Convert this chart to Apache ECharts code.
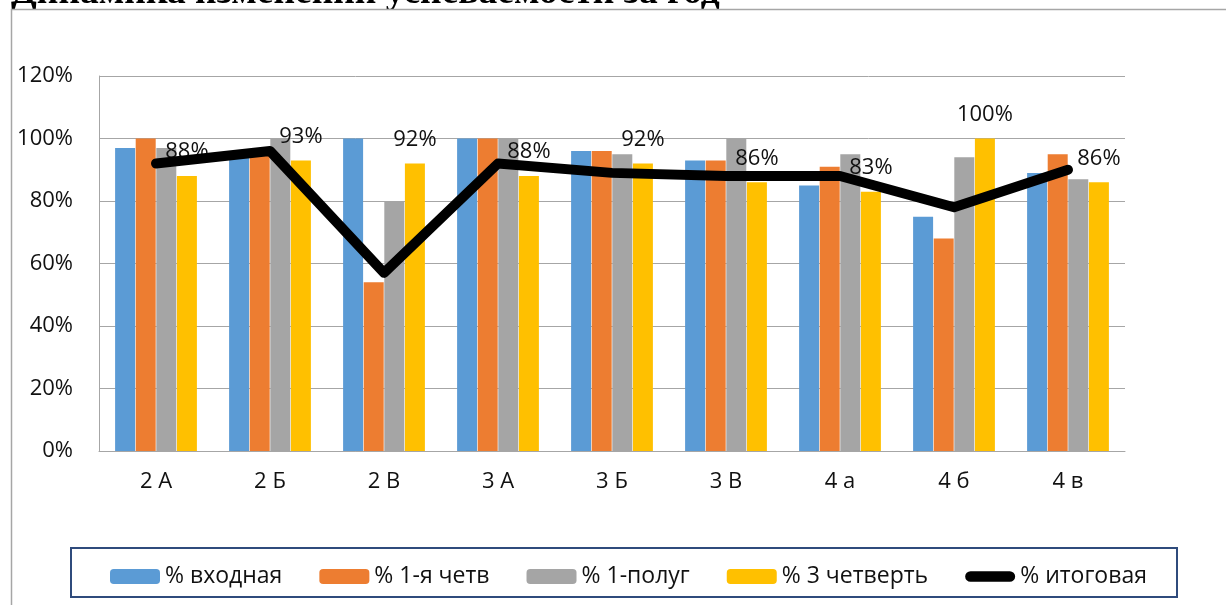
<!DOCTYPE html>
<html>
<head>
<meta charset="utf-8">
<script src="https://cdn.jsdelivr.net/npm/echarts@6/dist/echarts.min.js"></script>
<style>
html,body{margin:0;padding:0;background:#fff;}
#chart{width:1226px;height:605px;}
</style>
</head>
<body>
<div id="chart"></div>
<script>
const titleText = 'Динамика изменений успеваемости за год';
const categories = ['2 А','2 Б','2 В','3 А','3 Б','3 В','4 а','4 б','4 в'];
const seriesNames = ['% входная','% 1-я четв','% 1-полуг','% 3 четверть','% итоговая'];
const vhodnaya = [0.97,0.94,1.00,1.00,0.96,0.93,0.85,0.75,0.89];
const chetv1   = [1.00,0.96,0.54,1.00,0.96,0.93,0.91,0.68,0.95];
const polug1   = [0.97,1.00,0.80,1.00,0.95,1.00,0.95,0.94,0.87];
const chetv3   = [0.88,0.93,0.92,0.88,0.92,0.86,0.83,1.00,0.86];
const itog     = [0.92,0.96,0.57,0.92,0.89,0.88,0.88,0.78,0.90];
const yTicks = [0,0.2,0.4,0.6,0.8,1.0,1.2];

const colors = ['#5b9bd5','#ed7d31','#a5a5a5','#ffc000','#000000'];
const FONT = '"Open Sans", sans-serif';
const pct = v => Math.round(v*100) + '%';

const chart = echarts.init(document.getElementById('chart'), null, {renderer:'canvas'});

function bar(name, data, color, withLabel){
  const s = {
    name, type:'bar', data, barWidth:20, barGap:'3%',
    itemStyle:{color},
    z:2
  };
  if(withLabel){
    s.label = {show:true, position:'top', distance:13, formatter:p=>pct(p.value),
      fontFamily:FONT, fontSize:22, color:'#111'};
  }
  return s;
}

chart.setOption({
  backgroundColor:'#fff',
  animation:false,
  graphic:[
    {type:'text', z:-10, x:11, y:-7,
      style:{text:titleText, font:'bold 37.5px "Liberation Serif", serif', fill:'#000', verticalAlign:'middle'}},
    {type:'rect', z:-5, shape:{x:11.5, y:9.5, width:1400, height:800},
      style:{fill:'#fff', stroke:'#a6a6a6', lineWidth:1.5}},
    {type:'rect', z:-4, shape:{x:71, y:548, width:1106, height:49},
      style:{fill:'#fff', stroke:'#2f4b7c', lineWidth:2}}
  ],
  grid:{left:99, right:101, top:76, bottom:154, containLabel:false},
  legend:{
    data:[
      {name:seriesNames[0]},{name:seriesNames[1]},{name:seriesNames[2]},{name:seriesNames[3]},
      {name:seriesNames[4], icon:'path://M6,0 H50 A6,6 0 0 1 50,12 H6 A6,6 0 0 1 6,0 Z'}
    ],
    left:105, top:560, itemWidth:50, itemHeight:15, itemGap:37,
    textStyle:{fontFamily:FONT, fontSize:23, color:'#111'},
    z:5
  },
  xAxis:{
    type:'category', data:categories, boundaryGap:true,
    axisLine:{lineStyle:{color:'#a6a6a6', width:1}},
    axisTick:{show:false},
    axisLabel:{fontFamily:FONT, fontSize:22, color:'#111', margin:20},
    z:1
  },
  yAxis:{
    type:'value', min:0, max:1.2, interval:0.2,
    axisLine:{show:true, lineStyle:{color:'#a6a6a6', width:1}},
    axisTick:{show:false},
    splitLine:{lineStyle:{color:'#a6a6a6', width:1}},
    axisLabel:{fontFamily:FONT, fontSize:22, color:'#111', margin:26, formatter:v=>pct(v)},
    z:1
  },
  series:[
    bar(seriesNames[0], vhodnaya, colors[0], false),
    bar(seriesNames[1], chetv1, colors[1], false),
    bar(seriesNames[2], polug1, colors[2], false),
    bar(seriesNames[3], chetv3, colors[3], true),
    {name:seriesNames[4], type:'line', data:itog, symbol:'none', z:3,
      itemStyle:{color:'#000'},
      lineStyle:{color:'#000', width:10, cap:'round', join:'round'}}
  ]
});
</script>
</body>
</html>
